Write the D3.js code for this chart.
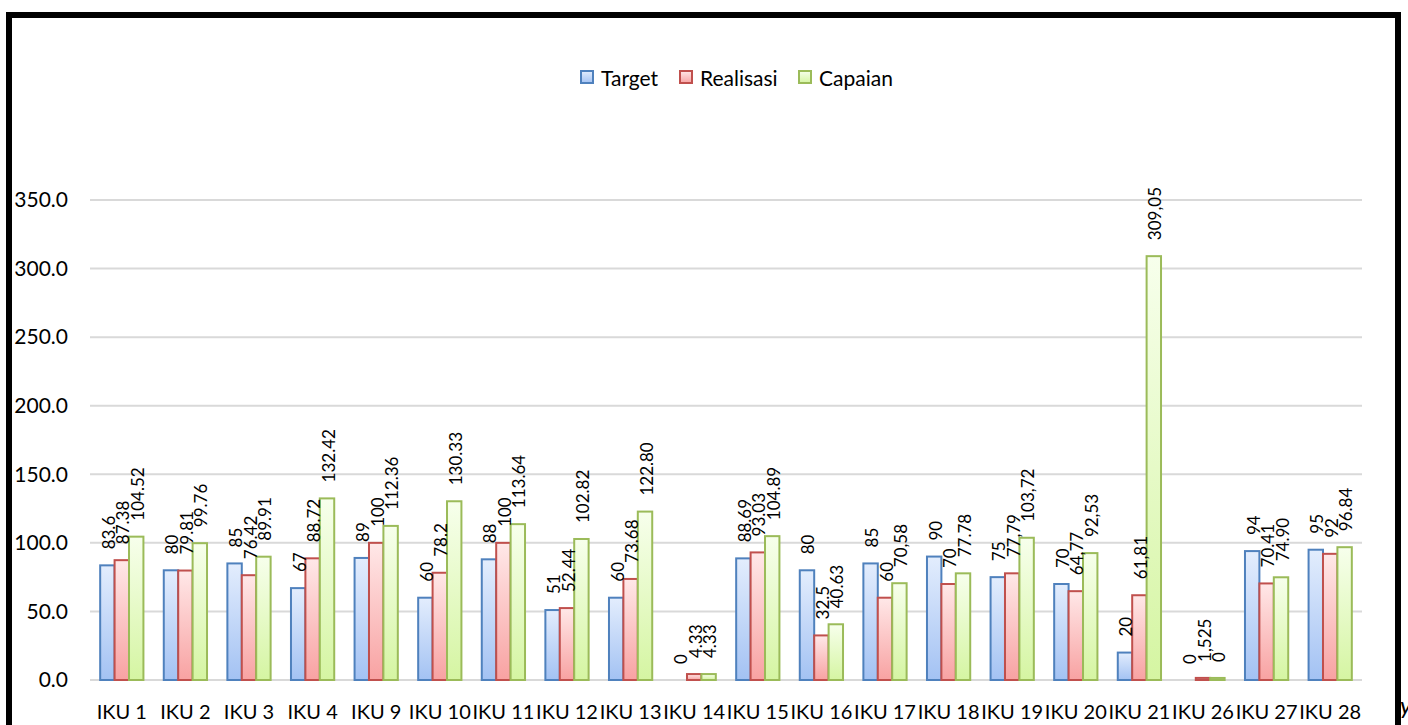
<!DOCTYPE html>
<html>
<head>
<meta charset="utf-8">
<script src="https://cdn.jsdelivr.net/npm/d3@7"></script>
<style>
  body { margin: 0; background: #fff; }
  svg { display: block; font-family: Lato, "Open Sans", sans-serif; }
</style>
</head>
<body>
<div id="chart"></div>
<script>
// categories and series
var categories = ["IKU 1", "IKU 2", "IKU 3", "IKU 4", "IKU 9", "IKU 10", "IKU 11", "IKU 12", "IKU 13", "IKU 14",
                  "IKU 15", "IKU 16", "IKU 17", "IKU 18", "IKU 19", "IKU 20", "IKU 21", "IKU 26", "IKU 27", "IKU 28"];
var seriesNames = ["Target", "Realisasi", "Capaian"];

var target    = [83.6, 80, 85, 67, 89, 60, 88, 51, 60, 0, 88.69, 80, 85, 90, 75, 70, 20, 0, 94, 95];
var realisasi = [87.38, 79.81, 76.42, 88.72, 100, 78.2, 100, 52.44, 73.68, 4.33, 93.03, 32.5, 60, 70, 77.79, 64.77, 61.81, 1.525, 70.41, 92];
var capaian   = [104.52, 99.76, 89.91, 132.42, 112.36, 130.33, 113.64, 102.82, 122.80, 4.33, 104.89, 40.63, 70.58, 77.78, 103.72, 92.53, 309.05, 1.5, 74.90, 96.84];

// data label texts as printed (mixed decimal separators)
var targetLabels    = ["83.6", "80", "85", "67", "89", "60", "88", "51", "60", "0", "88.69", "80", "85", "90", "75", "70", "20", "0", "94", "95"];
var realisasiLabels = ["87.38", "79.81", "76.42", "88.72", "100", "78.2", "100", "52.44", "73.68", "4.33", "93.03", "32.5", "60", "70", "77,79", "64,77", "61,81", "1,525", "70.41", "92"];
var capaianLabels   = ["104.52", "99.76", "89.91", "132.42", "112.36", "130.33", "113.64", "102.82", "122.80", "4.33", "104.89", "40.63", "70,58", "77.78", "103,72", "92,53", "309,05", "0", "74.90", "96.84"];

var yTicks = [0, 50, 100, 150, 200, 250, 300, 350];

var W = 1408, H = 725;
var svg = d3.select("#chart").append("svg").attr("width", W).attr("height", H);

var colors = [
  { stroke: "#4f81bd", top: "#e3edfd", bottom: "#a3c2f3" },
  { stroke: "#c0504d", top: "#ffe8e8", bottom: "#f8a2a2" },
  { stroke: "#9bbb59", top: "#f7ffec", bottom: "#d5f5a2" }
];

var defs = svg.append("defs");
colors.forEach(function(c, i) {
  var g = defs.append("linearGradient").attr("id", "grad" + i)
    .attr("x1", 0).attr("y1", 0).attr("x2", 0).attr("y2", 1);
  g.append("stop").attr("offset", "0%").attr("stop-color", c.top);
  g.append("stop").attr("offset", "100%").attr("stop-color", c.bottom);
});

// outer frame (bottom edge runs off the picture)
svg.append("rect")
  .attr("x", 9).attr("y", 15).attr("width", 1389).attr("height", 800)
  .attr("fill", "#fff").attr("stroke", "#000").attr("stroke-width", 6);

var plotLeft = 90, plotRight = 1362, plotTop = 200, plotBottom = 680;

var x0 = d3.scaleBand().domain(categories).range([plotLeft, plotRight]).paddingInner(0.32).paddingOuter(0.16);
var x1 = d3.scaleBand().domain(seriesNames).range([0, x0.bandwidth()]);
var y = d3.scaleLinear().domain([0, 350]).range([plotBottom, plotTop]);

// gridlines
svg.append("g").selectAll("line").data(yTicks).enter().append("line")
  .attr("x1", plotLeft).attr("x2", plotRight)
  .attr("y1", function(d) { return y(d); }).attr("y2", function(d) { return y(d); })
  .attr("stroke", "#d9d9d9").attr("stroke-width", 2);

// y axis labels
var yAxis = d3.axisLeft(y).tickValues(yTicks).tickFormat(d3.format(".1f")).tickSize(0).tickPadding(0);
var ya = svg.append("g").attr("transform", "translate(68,0)").call(yAxis);
ya.select(".domain").remove();
ya.selectAll("text").attr("font-size", 21).attr("fill", "#000").attr("font-family", "Lato, sans-serif");

// x axis labels
var xAxis = d3.axisBottom(x0).tickSize(0).tickPadding(0);
var xa = svg.append("g").attr("transform", "translate(0,705)").call(xAxis);
xa.select(".domain").remove();
xa.selectAll("text").attr("font-size", 20).attr("fill", "#000").attr("font-family", "Lato, sans-serif");

var values = [target, realisasi, capaian];
var labels = [targetLabels, realisasiLabels, capaianLabels];

var rows = [];
categories.forEach(function(c, i) {
  seriesNames.forEach(function(s, j) {
    rows.push({ cat: c, ser: s, j: j, v: values[j][i], label: labels[j][i] });
  });
});

// bars
svg.append("g").selectAll("rect").data(rows.filter(function(d) { return d.v > 0; })).enter().append("rect")
  .attr("x", function(d) { return x0(d.cat) + x1(d.ser); })
  .attr("y", function(d) { return y(d.v); })
  .attr("width", x1.bandwidth())
  .attr("height", function(d) { return plotBottom - y(d.v); })
  .attr("fill", function(d) { return "url(#grad" + d.j + ")"; })
  .attr("stroke", function(d) { return colors[d.j].stroke; })
  .attr("stroke-width", 2);

// rotated data labels
svg.append("g").selectAll("text").data(rows).enter().append("text")
  .attr("transform", function(d) {
    var cx = x0(d.cat) + x1(d.ser) + x1.bandwidth() / 2 + 1;
    return "translate(" + cx + "," + (y(d.v) - 16) + ") rotate(-90)";
  })
  .attr("text-anchor", "start")
  .attr("dominant-baseline", "central")
  .attr("font-size", 17)
  .attr("fill", "#000")
  .text(function(d) { return d.label; });

// legend
var legend = svg.append("g").attr("transform", "translate(580,70)");
var lx = [0, 99, 218];
seriesNames.forEach(function(s, j) {
  var g = legend.append("g").attr("transform", "translate(" + lx[j] + ",0)");
  g.append("rect").attr("x", 1).attr("y", 1).attr("width", 12).attr("height", 12)
    .attr("fill", "url(#grad" + j + ")").attr("stroke", colors[j].stroke).attr("stroke-width", 2);
  g.append("text").attr("x", 21).attr("y", 7).attr("dominant-baseline", "central")
    .attr("font-size", 21).attr("fill", "#000").text(s);
});

// stray glyph beyond the right frame edge
svg.append("text").attr("x", 1400).attr("y", 714).attr("font-size", 24)
  .attr("font-style", "italic").attr("fill", "#000").text("y");
</script>
</body>
</html>
